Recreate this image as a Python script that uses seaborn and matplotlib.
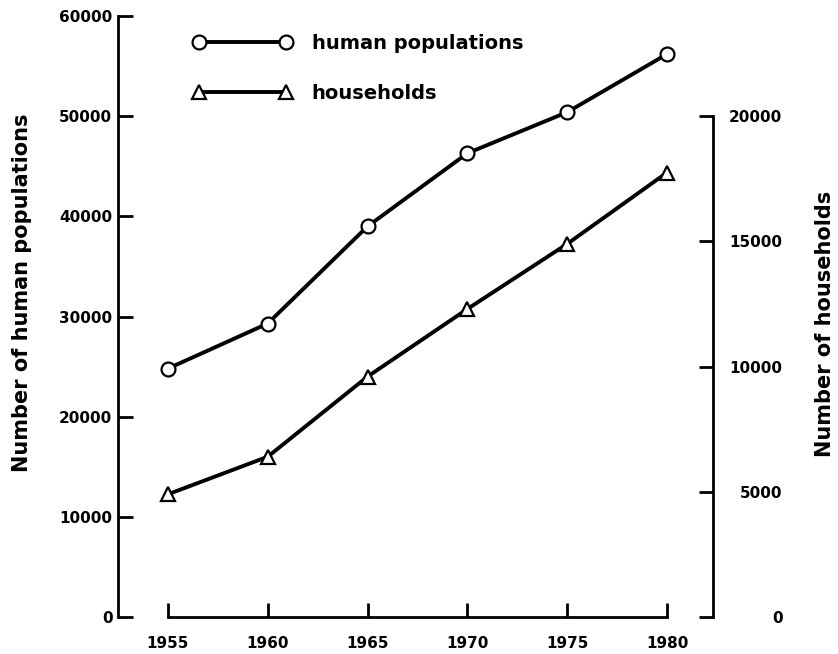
import matplotlib
matplotlib.use("Agg")
import matplotlib.pyplot as plt
import seaborn as sns

# data
years = [1955, 1960, 1965, 1970, 1975, 1980]
human_populations = [24800, 29300, 39000, 46300, 50400, 56200]
households = [4900, 6400, 9600, 12300, 14900, 17750]

left_ticks = [0, 10000, 20000, 30000, 40000, 50000, 60000]
right_ticks = [0, 5000, 10000, 15000, 20000]

sns.set_theme(style="white")
plt.rcParams["font.family"] = ["DejaVu Sans"]
plt.rcParams["font.weight"] = "bold"
plt.rcParams["text.color"] = "black"
plt.rcParams["axes.labelcolor"] = "black"
plt.rcParams["xtick.color"] = "black"
plt.rcParams["ytick.color"] = "black"

fig = plt.figure(figsize=(8.38, 6.54), dpi=100)
ax = fig.add_axes([0.1408, 0.0566, 0.71, 0.9189])
ax2 = ax.twinx()

line_kw = dict(color="black", linewidth=2.8, markersize=10,
               markerfacecolor="white", markeredgecolor="black",
               markeredgewidth=1.6)

sns.lineplot(x=years, y=human_populations, ax=ax, marker="o",
             label="human populations", legend=False, **line_kw)
sns.lineplot(x=years, y=households, ax=ax2, marker="^",
             label="households", legend=False, **line_kw)

ax.set_xlim(1952.5, 1982.3)
ax.set_ylim(0, 60000)
ax2.set_ylim(0, 24000)

# spines
for s in ["top", "right"]:
    ax.spines[s].set_visible(False)
for s in ["top", "left", "bottom"]:
    ax2.spines[s].set_visible(False)
for a, s in [(ax, "left"), (ax, "bottom"), (ax2, "right")]:
    a.spines[s].set_color("black")
    a.spines[s].set_linewidth(2)
ax.spines["left"].set_bounds(0, 60000)
ax.spines["bottom"].set_bounds(1955, 1980)
ax2.spines["right"].set_bounds(0, 20000)

ax.set_xticks(years)
ax.set_xticklabels([str(y) for y in years])
ax.set_yticks(left_ticks)
ax.set_yticklabels([str(t) for t in left_ticks])
ax2.set_yticks(right_ticks)
ax2.set_yticklabels([str(t) for t in right_ticks])

ax.tick_params(axis="x", direction="in", length=10, width=2, color="black",
               pad=14, labelsize=11, bottom=True, labelcolor="black")
ax.tick_params(axis="y", direction="in", length=11, width=2, color="black",
               pad=4, labelsize=11, left=True, labelcolor="black")
ax2.tick_params(axis="y", direction="in", length=10, width=2, color="black",
                pad=50, labelsize=11, right=True, labelcolor="black")
for lab in ax2.get_yticklabels():
    lab.set_horizontalalignment("right")
for lab in ax.get_xticklabels() + ax.get_yticklabels() + ax2.get_yticklabels():
    lab.set_fontweight("bold")

ax.set_ylabel("Number of human populations", fontsize=15, fontweight="bold",
              color="black")
ax.yaxis.set_label_coords(-0.145, 0.54)
ax2.set_ylabel("Number of households", fontsize=15, fontweight="bold",
               color="black")
ax2.yaxis.set_label_coords(1.172, 0.487)
ax.set_xlabel("")

h1, l1 = ax.get_legend_handles_labels()
h2, l2 = ax2.get_legend_handles_labels()
leg = ax2.legend(h1 + h2, l1 + l2, loc="upper left",
                 bbox_to_anchor=(0.126, 0.97), frameon=False,
                 numpoints=2, handlelength=5.1, handletextpad=1.0,
                 labelspacing=1.6, borderpad=0, borderaxespad=0,
                 prop={"size": 14, "weight": "bold"})
for t in leg.get_texts():
    t.set_color("black")

fig.savefig("out.png", dpi=100)
